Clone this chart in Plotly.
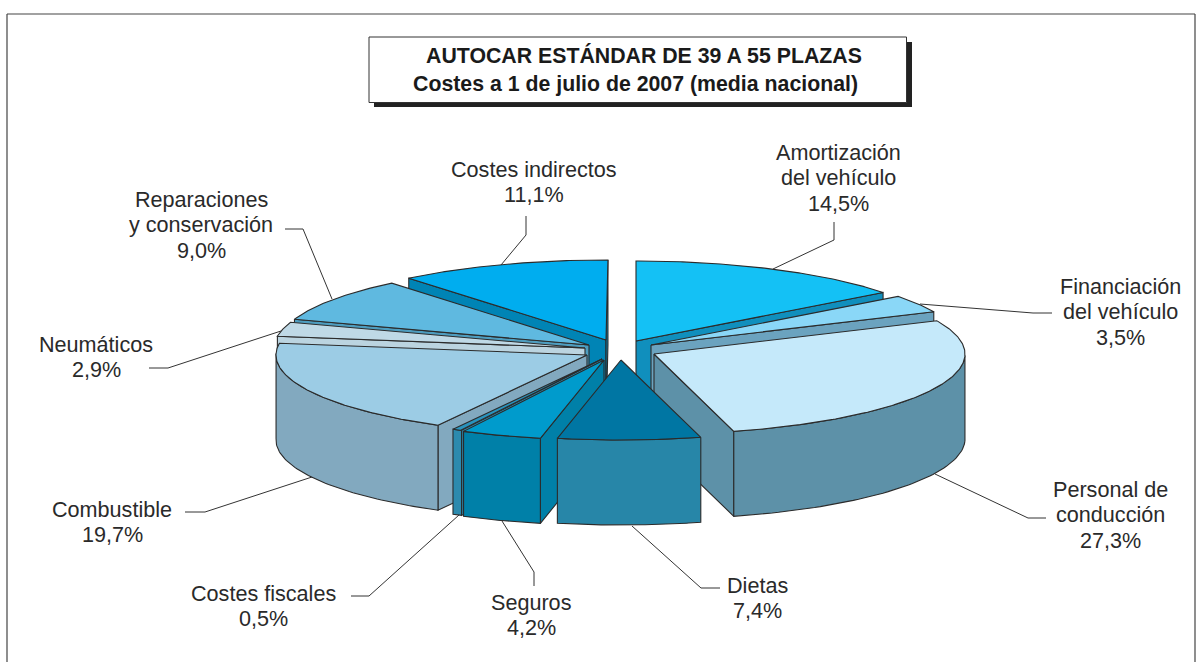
import numpy as np
import plotly.graph_objects as go

# ---- data (pie order, clockwise from 12 o'clock) ----
categories = ["Amortización del vehículo", "Financiación del vehículo", "Personal de conducción",
              "Dietas", "Seguros", "Costes fiscales", "Combustible", "Neumáticos",
              "Reparaciones y conservación", "Costes indirectos"]
shares = [14.5, 3.5, 27.3, 7.4, 4.2, 0.5, 19.7, 2.9, 9.0, 11.1]

# ---- styling ----
top_colors = ["#14C1F5", "#8AD7F7", "#C5E9FA", "#0076A3", "#009BCC",
              "#2A93BC", "#9CCCE5", "#BFD9E6", "#5FB9E0", "#00ADEF"]
wall_colors = ["#108FBD", "#6BA3BF", "#5D91A8", "#2786A8", "#0080A8",
               "#2C8AAE", "#82A9BF", "#BBD4E0", "#4E9DBF", "#0084B5"]
# explosion of every slice from the pie centre (px right, px down)
explode_x = [15, 30, 33, 0, -17, -19, -34, -36, -32, -15]
explode_y = [-9, -5, 4, 10, 10, 9, 5, -2, -5, -10]
CX, CY, RX, RY, DEPTH = 621, 350, 311, 80, 85
EDGE = "#2b2b2b"
TEXT = "#2a2a2a"
FONT = "Liberation Sans"

label_lines = [["Amortización", "del vehículo"], ["Financiación", "del vehículo"], ["Personal de", "conducción"],
               ["Dietas"], ["Seguros"], ["Costes fiscales"], ["Combustible"], ["Neumáticos"],
               ["Reparaciones", "y conservación"], ["Costes indirectos"]]
label_x = [838, 1120, 1110, 757, 531, 263, 112, 96, 201, 534]
label_y = [152, 286, 489, 585, 602, 593, 509, 344, 199, 169]
LINE_GAP = 25.5
leaders = [[(834, 222), (834, 240), (773, 269)],
           [(1052, 313), (1033, 313), (920, 304)],
           [(1046, 518), (1028, 518), (935, 474)],
           [(720, 588), (701, 588), (632, 526)],
           [(534, 586), (534, 572), (502, 521)],
           [(351, 596), (369, 596), (459, 515)],
           [(185, 512), (205, 512), (312, 477)],
           [(149, 368), (168, 368), (281, 331)],
           [(285, 229), (303, 229), (332, 299)],
           [(526, 216), (526, 235), (501, 265)]]


def warp(deg):
    """slight view skew of the original 3-D projection: front of the pie turns ~2 degrees"""
    return deg + 2.1 * (1 - np.cos(np.radians(deg))) / 2


def ring(apex, a, dy=0):
    t = np.radians(warp(np.asarray(a, dtype=float)))
    return apex[0] + RX * np.sin(t), apex[1] - RY * np.cos(t) + dy


fig = go.Figure()


def poly(xs, ys, color, name):
    fig.add_trace(go.Scatter(x=list(xs), y=list(ys), mode="lines", fill="toself", fillcolor=color,
                             line=dict(color=EDGE, width=1.1), hoverinfo="text", text=name,
                             showlegend=False))


edges = np.concatenate([[0], np.cumsum(shares)]) * 3.6
mids = (edges[:-1] + edges[1:]) / 2
order = sorted(range(len(shares)), key=lambda i: -np.cos(np.radians(mids[i])))

for i in order:
    a1, a2 = edges[i], edges[i + 1]
    apex = (CX + explode_x[i], CY + explode_y[i])
    name = f"{categories[i]}: {shares[i]:.1f}%".replace(".", ",")
    # radial cut faces that look towards the viewer
    visible = []
    if np.sin(np.radians(a1)) < -1e-6:
        visible.append(a1)
    if np.sin(np.radians(a2)) > 1e-6:
        visible.append(a2)
    for a in visible:
        ex, ey = ring(apex, a)
        poly([apex[0], ex, ex, apex[0], apex[0]],
             [apex[1], ey, ey + DEPTH, apex[1] + DEPTH, apex[1]], wall_colors[i], name)
    # outer curved wall (front half only)
    w1, w2 = max(a1, 90), min(a2, 270)
    if w2 > w1:
        arc = np.linspace(w1, w2, 60)
        x0, y0 = ring(apex, arc)
        x1, y1 = ring(apex, arc[::-1], DEPTH)
        poly(np.r_[x0, x1, x0[0]], np.r_[y0, y1, y0[0]], wall_colors[i], name)
    # top surface
    arc = np.linspace(a1, a2, max(12, int((a2 - a1) * 2)))
    x0, y0 = ring(apex, arc)
    poly(np.r_[apex[0], x0, apex[0]], np.r_[apex[1], y0, apex[1]], top_colors[i], name)

# leader lines
for pts in leaders:
    fig.add_trace(go.Scatter(x=[p[0] for p in pts], y=[p[1] for p in pts], mode="lines",
                             line=dict(color="#333333", width=1), hoverinfo="skip", showlegend=False))

annotations = []


def text(x, y, s, size, bold=False):
    annotations.append(dict(x=x, y=y, xref="x", yref="y", text=f"<b>{s}</b>" if bold else s, showarrow=False,
                            xanchor="center", yanchor="middle",
                            font=dict(family=FONT, size=size, color=TEXT if not bold else "#1a1a1a")))


for i, lines in enumerate(label_lines):
    pct = f"{shares[i]:.1f}%".replace(".", ",")
    for k, s in enumerate(lines + [pct]):
        text(label_x[i], label_y[i] + k * LINE_GAP, s, 21.6)

text(643.5, 55, "AUTOCAR ESTÁNDAR DE 39 A 55 PLAZAS", 21.3, True)
text(635.5, 84, "Costes a 1 de julio de 2007 (media nacional)", 21.3, True)

shapes = [
    dict(type="rect", x0=374, y0=42, x1=912, y1=107, fillcolor="#222222", line=dict(width=0), layer="below"),
    dict(type="rect", x0=369, y0=37, x1=906.5, y1=102.5, fillcolor="white", line=dict(color="#333333", width=1), layer="below"),
    dict(type="line", x0=7, y0=14, x1=1195, y1=14, line=dict(color="#444444", width=1.2), layer="below"),
    dict(type="line", x0=7, y0=14, x1=7, y1=662, line=dict(color="#444444", width=1.2), layer="below"),
    dict(type="line", x0=1195, y0=14, x1=1195, y1=662, line=dict(color="#444444", width=1.2), layer="below"),
]

fig.update_layout(width=1203, height=662, margin=dict(l=0, r=0, t=0, b=0), paper_bgcolor="white",
                  plot_bgcolor="white", showlegend=False, annotations=annotations, shapes=shapes,
                  xaxis=dict(range=[0, 1203], visible=False, fixedrange=True),
                  yaxis=dict(range=[662, 0], visible=False, fixedrange=True))

fig.write_html("out.html", config={"displayModeBar": False},
               post_script="document.body.style.margin='0';document.body.style.overflow='hidden';")
